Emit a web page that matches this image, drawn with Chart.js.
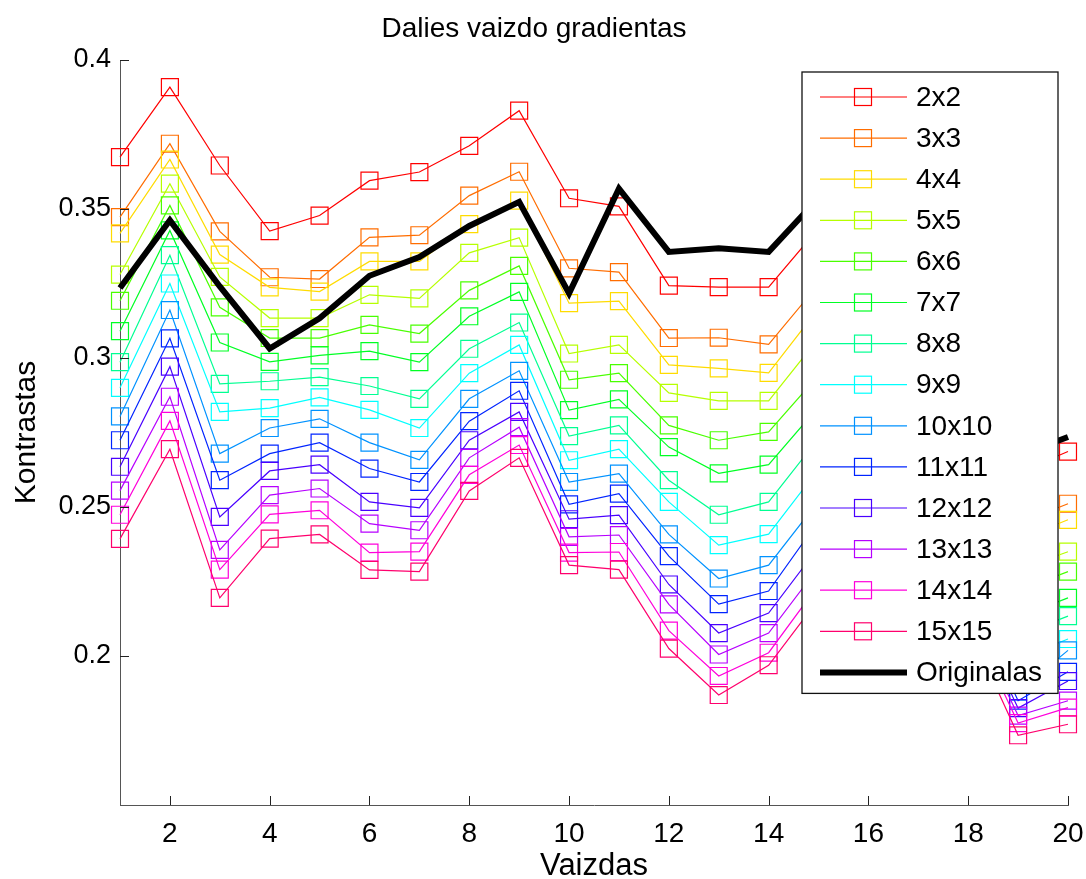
<!DOCTYPE html>
<html>
<head>
<meta charset="utf-8">
<title>Dalies vaizdo gradientas</title>
<script src="https://cdn.jsdelivr.net/npm/chart.js@4.4.1/dist/chart.umd.min.js"></script>
<style>
  html, body { margin: 0; padding: 0; background: #fff; }
  #wrap { width: 1086px; height: 879px; }
</style>
</head>
<body>
<div id="wrap"><canvas id="gradChart" width="1086" height="879"></canvas></div>
<script>
// Vaizdų numeriai (x ašis)
const imageNumbers = [1, 2, 3, 4, 5, 6, 7, 8, 9, 10, 11, 12, 13, 14, 15, 16, 17, 18, 19, 20];

// Lango dydžiai
const windowLabels = ['2x2', '3x3', '4x4', '5x5', '6x6', '7x7', '8x8', '9x9', '10x10', '11x11', '12x12', '13x13', '14x14', '15x15'];

// Kontrastas kiekvienam lango dydžiui
const c2x2   = [0.3674, 0.3909, 0.3646, 0.3426, 0.3478, 0.3595, 0.3624, 0.3712, 0.3830, 0.3536, 0.3509, 0.3243, 0.3238, 0.3238, 0.3435, 0.3500, 0.3450, 0.3000, 0.2615, 0.2686];
const c3x3   = [0.3473, 0.3719, 0.3425, 0.3271, 0.3265, 0.3405, 0.3412, 0.3545, 0.3625, 0.3301, 0.3288, 0.3067, 0.3068, 0.3046, 0.3247, 0.3300, 0.3250, 0.2850, 0.2445, 0.2511];
const c4x4   = [0.3418, 0.3666, 0.3347, 0.3237, 0.3223, 0.3324, 0.3324, 0.3449, 0.3528, 0.3184, 0.3191, 0.2977, 0.2965, 0.2950, 0.3166, 0.3220, 0.3180, 0.2780, 0.2390, 0.2457];
const c5x5   = [0.3280, 0.3585, 0.3272, 0.3134, 0.3134, 0.3212, 0.3200, 0.3353, 0.3404, 0.3015, 0.3044, 0.2883, 0.2856, 0.2856, 0.3066, 0.3120, 0.3070, 0.2680, 0.2290, 0.2350];
const c6x6   = [0.3192, 0.3512, 0.3170, 0.3067, 0.3067, 0.3111, 0.3082, 0.3227, 0.3309, 0.2927, 0.2949, 0.2774, 0.2724, 0.2752, 0.2942, 0.3000, 0.2960, 0.2600, 0.2220, 0.2283];
const c7x7   = [0.3090, 0.3428, 0.3052, 0.2987, 0.3009, 0.3023, 0.2986, 0.3140, 0.3222, 0.2825, 0.2861, 0.2701, 0.2613, 0.2642, 0.2836, 0.2890, 0.2850, 0.2510, 0.2130, 0.2195];
const c8x8   = [0.2986, 0.3345, 0.2913, 0.2922, 0.2936, 0.2906, 0.2863, 0.3031, 0.3119, 0.2738, 0.2774, 0.2590, 0.2474, 0.2517, 0.2730, 0.2780, 0.2740, 0.2430, 0.2070, 0.2134];
const c9x9   = [0.2900, 0.3250, 0.2819, 0.2832, 0.2868, 0.2826, 0.2765, 0.2949, 0.3044, 0.2657, 0.2694, 0.2517, 0.2372, 0.2409, 0.2627, 0.2680, 0.2640, 0.2350, 0.1990, 0.2057];
const c10x10 = [0.2804, 0.3161, 0.2679, 0.2765, 0.2796, 0.2716, 0.2658, 0.2863, 0.2957, 0.2584, 0.2612, 0.2408, 0.2260, 0.2305, 0.2520, 0.2570, 0.2530, 0.2260, 0.1880, 0.2019];
const c11x11 = [0.2724, 0.3066, 0.2590, 0.2679, 0.2716, 0.2629, 0.2584, 0.2788, 0.2890, 0.2509, 0.2545, 0.2335, 0.2174, 0.2218, 0.2453, 0.2500, 0.2460, 0.2210, 0.1850, 0.1947];
const c12x12 = [0.2635, 0.2971, 0.2467, 0.2621, 0.2642, 0.2517, 0.2497, 0.2724, 0.2819, 0.2459, 0.2473, 0.2240, 0.2077, 0.2144, 0.2365, 0.2410, 0.2370, 0.2180, 0.1825, 0.1916];
const c13x13 = [0.2555, 0.2870, 0.2356, 0.2540, 0.2562, 0.2444, 0.2422, 0.2665, 0.2768, 0.2400, 0.2406, 0.2173, 0.2005, 0.2077, 0.2298, 0.2340, 0.2300, 0.2150, 0.1800, 0.1850];
const c14x14 = [0.2474, 0.2789, 0.2290, 0.2475, 0.2489, 0.2347, 0.2350, 0.2608, 0.2708, 0.2347, 0.2349, 0.2085, 0.1933, 0.2011, 0.2239, 0.2280, 0.2240, 0.2130, 0.1775, 0.1827];
const c15x15 = [0.2393, 0.2694, 0.2195, 0.2394, 0.2408, 0.2289, 0.2283, 0.2554, 0.2665, 0.2305, 0.2290, 0.2025, 0.1869, 0.1969, 0.2190, 0.2240, 0.2200, 0.2100, 0.1734, 0.1771];

// Originalaus vaizdo kontrastas
const originalLabel = 'Originalas';
const originalValues = [0.3235, 0.3462, 0.3240, 0.3032, 0.3133, 0.3276, 0.3339, 0.3443, 0.3524, 0.3217, 0.3568, 0.3356, 0.3368, 0.3356, 0.3537, 0.3560, 0.3500, 0.3100, 0.2672, 0.2735];

// Ašių padalos
const xTickValues = [2, 4, 6, 8, 10, 12, 14, 16, 18, 20];
const yTickValues = [0.2, 0.25, 0.3, 0.35, 0.4];

const seriesValues = [c2x2, c3x3, c4x4, c5x5, c6x6, c7x7, c8x8, c9x9, c10x10, c11x11, c12x12, c13x13, c14x14, c15x15];

// hsv(14) spalvos
const seriesColors = ['#ff0000', '#ff6d00', '#ffdb00', '#b6ff00', '#49ff00', '#00ff24', '#00ff92',
                      '#00ffff', '#0092ff', '#0024ff', '#4900ff', '#b600ff', '#ff00db', '#ff006d'];

Chart.defaults.font.family = "'Liberation Sans', Arial, sans-serif";
Chart.defaults.color = '#000';

const datasets = windowLabels.map((label, i) => ({
    label: label,
    data: imageNumbers.map((x, k) => ({ x: x, y: seriesValues[i][k] })),
    borderColor: seriesColors[i],
    borderWidth: 1.2,
    pointStyle: 'rect',
    pointRadius: 12,
    pointBorderWidth: 1.2,
    pointBorderColor: seriesColors[i],
    pointBackgroundColor: 'rgba(0,0,0,0)',
    fill: false,
    tension: 0,
    order: windowLabels.length - i,
    clip: false
}));

datasets.push({
    label: originalLabel,
    data: imageNumbers.map((x, k) => ({ x: x, y: originalValues[k] })),
    borderColor: '#000',
    borderWidth: 6,
    borderJoinStyle: 'miter',
    pointRadius: 0,
    fill: false,
    tension: 0,
    order: 0,
    clip: false
});

// Legenda rėmelyje dešinėje viršuje, virš linijų
const boxLegend = {
    id: 'boxLegend',
    afterDatasetsDraw(chart) {
        const { ctx, chartArea } = chart;
        const sets = chart.data.datasets;
        const w = 256, rowH = 41.1;
        const left = chartArea.right - 10 - w;
        const top = chartArea.top + 12;
        const h = 25 + (sets.length - 1) * rowH + 21;

        ctx.save();
        ctx.fillStyle = '#fff';
        ctx.fillRect(left, top, w, h);
        ctx.strokeStyle = '#111';
        ctx.lineWidth = 1.3;
        ctx.strokeRect(left, top, w, h);

        sets.forEach((ds, i) => {
            const y = top + 25 + i * rowH;
            ctx.strokeStyle = ds.borderColor;
            ctx.lineWidth = ds.borderWidth;
            ctx.beginPath();
            ctx.moveTo(left + 18, y);
            ctx.lineTo(left + 105, y);
            ctx.stroke();
            if (ds.pointRadius > 0) {
                ctx.lineWidth = ds.pointBorderWidth;
                ctx.strokeRect(left + 61 - 8.5, y - 8.5, 17, 17);
            }
            ctx.fillStyle = '#000';
            ctx.font = "28px 'Liberation Sans', Arial, sans-serif";
            ctx.textBaseline = 'middle';
            ctx.textAlign = 'left';
            ctx.fillText(ds.label, left + 114, y + 1);
        });
        ctx.restore();
    }
};

// Padalų brūkšneliai į vidų
const inwardTicks = {
    id: 'inwardTicks',
    afterDraw(chart) {
        const { ctx, scales: { x, y } } = chart;
        ctx.save();
        ctx.strokeStyle = '#222';
        ctx.lineWidth = 1;
        x.ticks.forEach(t => {
            const px = Math.round(x.getPixelForValue(t.value)) + 0.5;
            ctx.beginPath();
            ctx.moveTo(px, y.bottom);
            ctx.lineTo(px, y.bottom - 9);
            ctx.stroke();
        });
        y.ticks.forEach(t => {
            const py = Math.round(y.getPixelForValue(t.value)) + 0.5;
            ctx.beginPath();
            ctx.moveTo(x.left, py);
            ctx.lineTo(x.left + 9, py);
            ctx.stroke();
        });
        ctx.restore();
    }
};

const ctx = document.getElementById('gradChart').getContext('2d');
new Chart(ctx, {
    type: 'line',
    data: { datasets: datasets },
    options: {
        responsive: false,
        animation: false,
        events: [],
        layout: { padding: { left: 0, right: 18, top: 0, bottom: 0 } },
        plugins: {
            legend: { display: false },
            tooltip: { enabled: false },
            title: {
                display: true,
                text: 'Dalies vaizdo gradientas',
                color: '#000',
                font: { size: 28, weight: 'normal', lineHeight: 1.2 },
                padding: { top: 12, bottom: 14.4 }
            }
        },
        scales: {
            x: {
                type: 'linear',
                min: 1,
                max: 20,
                afterBuildTicks: s => { s.ticks = xTickValues.map(v => ({ value: v })); },
                afterFit: s => { s.height = 74; s.paddingLeft = 0; s.paddingRight = 0; },
                grid: { display: false, drawTicks: false },
                border: { display: true, color: '#555', width: 1 },
                ticks: {
                    color: '#000',
                    padding: 12,
                    maxRotation: 0,
                    autoSkip: false,
                    font: { size: 28, family: "'Liberation Sans Narrow', 'Liberation Sans', Arial, sans-serif" },
                    callback: v => String(v)
                },
                title: {
                    display: true,
                    text: 'Vaizdas',
                    color: '#000',
                    font: { size: 31, lineHeight: 0.8, family: "'Liberation Sans Narrow', 'Liberation Sans', Arial, sans-serif" },
                    padding: 0
                }
            },
            y: {
                min: 0.15,
                max: 0.4,
                afterBuildTicks: s => { s.ticks = yTickValues.map(v => ({ value: v })); },
                afterFit: s => { s.width = 120; s.paddingTop = 0; s.paddingBottom = 0; },
                grid: { display: false, drawTicks: false },
                border: { display: true, color: '#555', width: 1 },
                ticks: {
                    color: '#000',
                    padding: 9,
                    font: { size: 27 },
                    callback: v => String(v)
                },
                title: {
                    display: true,
                    text: 'Kontrastas',
                    color: '#000',
                    font: { size: 30, lineHeight: 1.2 },
                    padding: { top: 9, bottom: 0 }
                }
            }
        }
    },
    plugins: [boxLegend, inwardTicks]
});
</script>
</body>
</html>
